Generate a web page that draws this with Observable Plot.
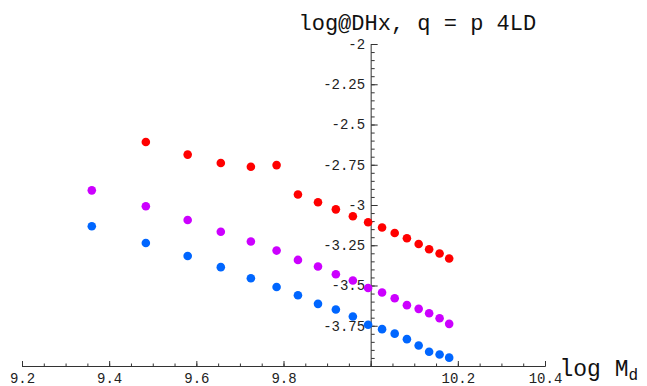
<!DOCTYPE html>
<html>
<head>
<meta charset="utf-8">
<script src="https://cdn.jsdelivr.net/npm/d3@7"></script>
<script src="https://cdn.jsdelivr.net/npm/@observablehq/plot@0.6"></script>
<style>
  html, body { margin: 0; padding: 0; background: #fff; }
</style>
</head>
<body>
<div id="chart"></div>
<script>
// ---- data ----
const logMd = [9.359, 9.483, 9.579, 9.655, 9.724, 9.783, 9.832, 9.878, 9.919, 9.958, 9.993, 10.025, 10.054, 10.082, 10.109, 10.133, 10.157, 10.179];
const redSeries = [null, -2.606, -2.684, -2.736, -2.759, -2.749, -2.932, -2.980, -3.024, -3.067, -3.104, -3.137, -3.171, -3.203, -3.239, -3.272, -3.298, -3.329];
const purpleSeries = [-2.906, -3.005, -3.090, -3.163, -3.224, -3.280, -3.338, -3.379, -3.427, -3.466, -3.512, -3.540, -3.576, -3.619, -3.642, -3.669, -3.700, -3.735];
const blueSeries = [-3.129, -3.233, -3.314, -3.383, -3.452, -3.506, -3.557, -3.611, -3.646, -3.689, -3.741, -3.768, -3.796, -3.830, -3.870, -3.908, -3.925, -3.945];

const xMajorTicks = [9.2, 9.4, 9.6, 9.8, 10, 10.2, 10.4];
const xTickLabels = ["9.2", "9.4", "9.6", "9.8", "", "10.2", "10.4"];
const yMajorTicks = [-2, -2.25, -2.5, -2.75, -3, -3.25, -3.5, -3.75, -4];
const yTickLabels = ["-2", "-2.25", "-2.5", "-2.75", "-3", "-3.25", "-3.5", "-3.75", ""];
const xMinorTicks = d3.range(0, 25).map(i => +(9.2 + i * 0.05).toFixed(2));
const yMinorTicks = d3.range(0, 41).map(i => +(-4 + i * 0.05).toFixed(2));

const titleText = "log@DHx, q = p 4LD";
const xLabelMain = "log M";
const xLabelSub = "d";

const seriesColors = {red: "#ff0000", purple: "#cc00ff", blue: "#0066ff"};

// build table
const points = [];
logMd.forEach((x, i) => {
  if (redSeries[i] != null) points.push({x, y: redSeries[i], s: "red"});
  points.push({x, y: purpleSeries[i], s: "purple"});
  points.push({x, y: blueSeries[i], s: "blue"});
});

const xAxisAt = -4, yAxisAt = 10;
const mono = "'Liberation Mono', 'Courier New', Courier, monospace";
const axisColor = "#333";

function tickSymbol(dx, dy) {
  return {draw(ctx) { ctx.moveTo(0, 0); ctx.lineTo(dx, dy); }};
}

const chart = Plot.plot({
  width: 647,
  height: 386,
  marginLeft: 22,
  marginRight: 102,
  marginTop: 44,
  marginBottom: 20,
  x: {domain: [9.2, 10.4], axis: null},
  y: {domain: [-4, -2], axis: null},
  style: {background: "#fff"},
  marks: [
    // axis lines
    Plot.ruleY([xAxisAt], {x1: 9.2, x2: 10.4, stroke: axisColor, strokeWidth: 1}),
    Plot.ruleX([yAxisAt], {y1: -4, y2: -2, stroke: axisColor, strokeWidth: 1}),
    // x ticks (pointing up)
    Plot.dot(xMinorTicks, {x: d => d, y: () => xAxisAt, symbol: tickSymbol(0, -3), stroke: axisColor, fill: "none", strokeWidth: 1}),
    Plot.dot(xMajorTicks, {x: d => d, y: () => xAxisAt, symbol: tickSymbol(0, -5.5), stroke: axisColor, fill: "none", strokeWidth: 1}),
    // y ticks (pointing right)
    Plot.dot(yMinorTicks, {x: () => yAxisAt, y: d => d, symbol: tickSymbol(3.5, 0), stroke: axisColor, fill: "none", strokeWidth: 1}),
    Plot.dot(yMajorTicks, {x: () => yAxisAt, y: d => d, symbol: tickSymbol(6.5, 0), stroke: axisColor, fill: "none", strokeWidth: 1}),
    // tick labels
    Plot.text(xMajorTicks, {x: d => d, y: () => xAxisAt, text: (d, i) => xTickLabels[i], lineAnchor: "top", dy: 7, fontFamily: mono, fontSize: 14, fill: "#222"}),
    Plot.text(yMajorTicks, {x: () => yAxisAt, y: d => d, text: (d, i) => yTickLabels[i], textAnchor: "end", dx: -6, fontFamily: mono, fontSize: 14, fill: "#222"}),
    // data
    Plot.dot(points, {x: "x", y: "y", r: 4.3, fill: d => seriesColors[d.s], stroke: "none"}),
    // title
    Plot.text([titleText], {frameAnchor: "top-left", dx: 276, dy: -22, textAnchor: "start", lineAnchor: "middle", fontFamily: mono, fontSize: 22, fill: "#111"}),
    // x axis label
    Plot.text([xLabelMain], {frameAnchor: "bottom-right", dx: 14, dy: 2, textAnchor: "start", lineAnchor: "middle", fontFamily: mono, fontSize: 23, fill: "#111"}),
    Plot.text([xLabelSub], {frameAnchor: "bottom-right", dx: 83, dy: 8, textAnchor: "start", lineAnchor: "middle", fontFamily: mono, fontSize: 16, fill: "#111"})
  ]
});

document.getElementById("chart").appendChild(chart);
</script>
</body>
</html>
